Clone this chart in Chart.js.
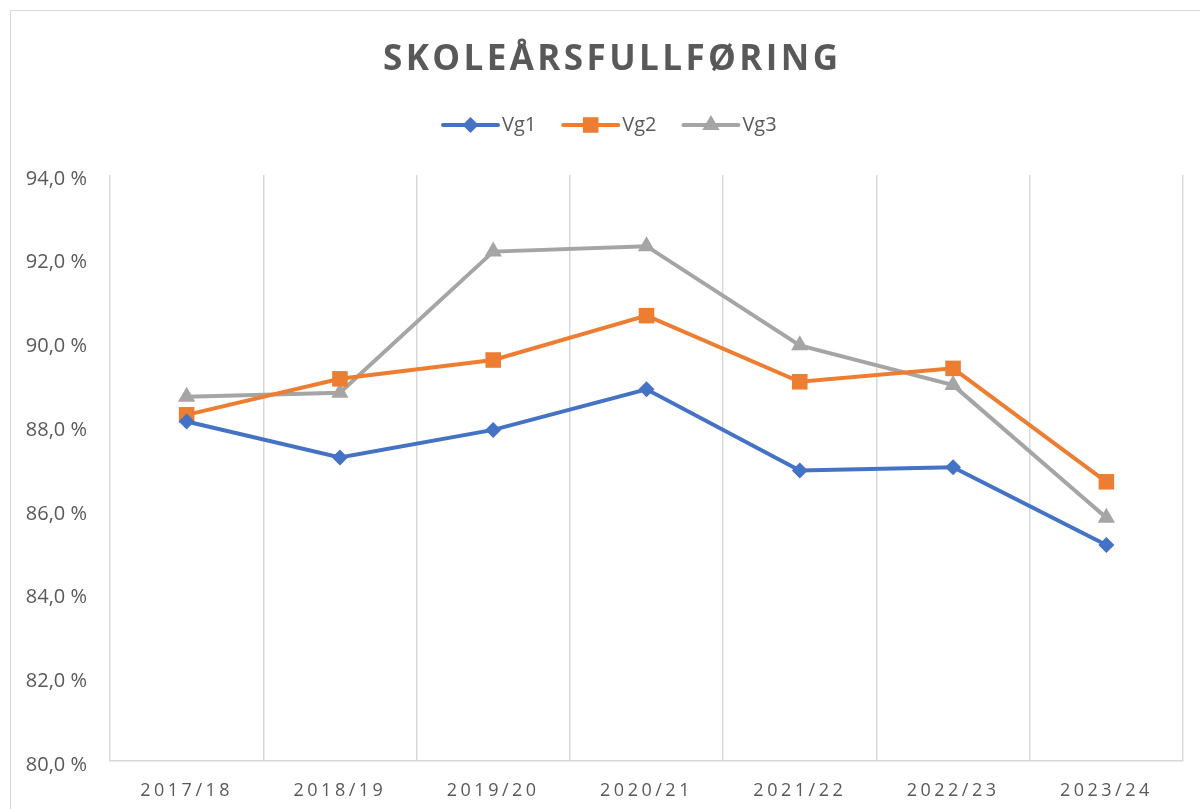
<!DOCTYPE html>
<html>
<head>
<meta charset="utf-8">
<script src="https://cdn.jsdelivr.net/npm/chart.js@4/dist/chart.umd.min.js"></script>
<style>
  html, body { margin: 0; padding: 0; background: #fff; overflow: hidden; }
  #frame { position: absolute; left: 10px; top: 10px; width: 1300px; height: 900px; border: 1.5px solid #d9d9d9; box-sizing: border-box; }
  #wrap { position: absolute; left: 0; top: 0; width: 1200px; height: 809px; }
</style>
</head>
<body>
<div id="frame"></div>
<div id="wrap"><canvas id="chart"></canvas></div>
<script>
// Data
const years = ["2017/18", "2018/19", "2019/20", "2020/21", "2021/22", "2022/23", "2023/24"];
const vg1 = [88.11, 87.25, 87.91, 88.88, 86.94, 87.02, 85.16];
const vg2 = [88.27, 89.13, 89.58, 90.64, 89.06, 89.38, 86.67];
const vg3 = [88.70, 88.80, 92.17, 92.30, 89.93, 88.98, 85.81];
const yTicks = [80, 82, 84, 86, 88, 90, 92, 94];
const seriesNames = ["Vg1", "Vg2", "Vg3"];

const FONT = "'Open Sans', sans-serif";
const TEXT = "#595959";
const colors = ["#4472C4", "#ED7D31", "#A5A5A5"];
const shapes = ["rectRot", "rect", "triangle"];
const radii = [8, 11, 10];

function marker(ctx, shape, x, y, r, color) {
  ctx.save();
  ctx.fillStyle = color;
  ctx.beginPath();
  if (shape === "rectRot") {
    ctx.moveTo(x, y - r); ctx.lineTo(x + r, y); ctx.lineTo(x, y + r); ctx.lineTo(x - r, y);
  } else if (shape === "rect") {
    const s = r * Math.SQRT1_2;
    ctx.rect(x - s, y - s, 2 * s, 2 * s);
  } else {
    ctx.moveTo(x, y - r);
    ctx.lineTo(x + r * 0.866, y + r * 0.5);
    ctx.lineTo(x - r * 0.866, y + r * 0.5);
  }
  ctx.closePath();
  ctx.fill();
  ctx.restore();
}

// Title and legend, drawn Excel style
const headerPlugin = {
  id: "header",
  afterDatasetsDraw(chart) {
    chart.ctx.letterSpacing = "3.5px";
  },
  afterDraw(chart) {
    const ctx = chart.ctx;
    ctx.save();
    ctx.letterSpacing = "0px";

    // title
    const title = "SKOLEÅRSFULLFØRING";
    ctx.font = "bold 35px " + FONT;
    const plain = ctx.measureText(title).width;
    const spacing = (455 - plain) / (title.length - 1);
    ctx.letterSpacing = spacing + "px";
    ctx.fillStyle = TEXT;
    ctx.textAlign = "left";
    ctx.textBaseline = "alphabetic";
    ctx.fillText(title, 383, 70);

    // legend
    ctx.letterSpacing = "0px";
    ctx.font = "20px " + FONT;
    let x = 443;
    const y = 125;
    seriesNames.forEach((name, i) => {
      ctx.strokeStyle = colors[i];
      ctx.lineWidth = 4;
      ctx.lineCap = "round";
      ctx.beginPath();
      ctx.moveTo(x, y);
      ctx.lineTo(x + 55, y);
      ctx.stroke();
      marker(ctx, shapes[i], x + 27.5, y, radii[i], colors[i]);
      ctx.fillStyle = TEXT;
      ctx.textBaseline = "middle";
      ctx.fillText(name, x + 59, y);
      x += 59 + ctx.measureText(name).width + 27;
    });
    ctx.restore();
  }
};

const ctx = document.getElementById("chart");
new Chart(ctx, {
  type: "line",
  data: {
    labels: years,
    datasets: [vg1, vg2, vg3].map((values, i) => ({
      label: seriesNames[i],
      data: values,
      borderColor: colors[i],
      backgroundColor: colors[i],
      borderWidth: 4,
      pointStyle: shapes[i],
      pointRadius: radii[i],
      pointHoverRadius: radii[i],
      pointBorderWidth: 0,
      tension: 0
    }))
  },
  options: {
    responsive: true,
    maintainAspectRatio: false,
    animation: false,
    events: [],
    layout: { padding: { left: 0, right: 17, top: 175, bottom: 0 } },
    plugins: {
      legend: { display: false },
      title: { display: false },
      tooltip: { enabled: false }
    },
    scales: {
      x: {
        offset: true,
        grid: { offset: true, color: "#d9d9d9", lineWidth: 1.5, drawTicks: false },
        border: { color: "#d9d9d9", width: 1.5 },
        ticks: { color: TEXT, font: { family: FONT, size: 18 }, padding: 19, z: 1 },
        afterFit: s => { s.height = 48; }
      },
      y: {
        min: 80,
        max: 94,
        grid: { display: false, drawTicks: false },
        border: { display: false },
        afterBuildTicks: s => { s.ticks = yTicks.map(v => ({ value: v })); },
        ticks: {
          color: TEXT,
          font: { family: FONT, size: 20 },
          padding: 23,
          labelOffset: 4,
          callback: v => v.toFixed(1).replace(".", ",") + " %"
        },
        afterFit: s => { s.width = 110; }
      }
    }
  },
  plugins: [headerPlugin]
});
</script>
</body>
</html>
